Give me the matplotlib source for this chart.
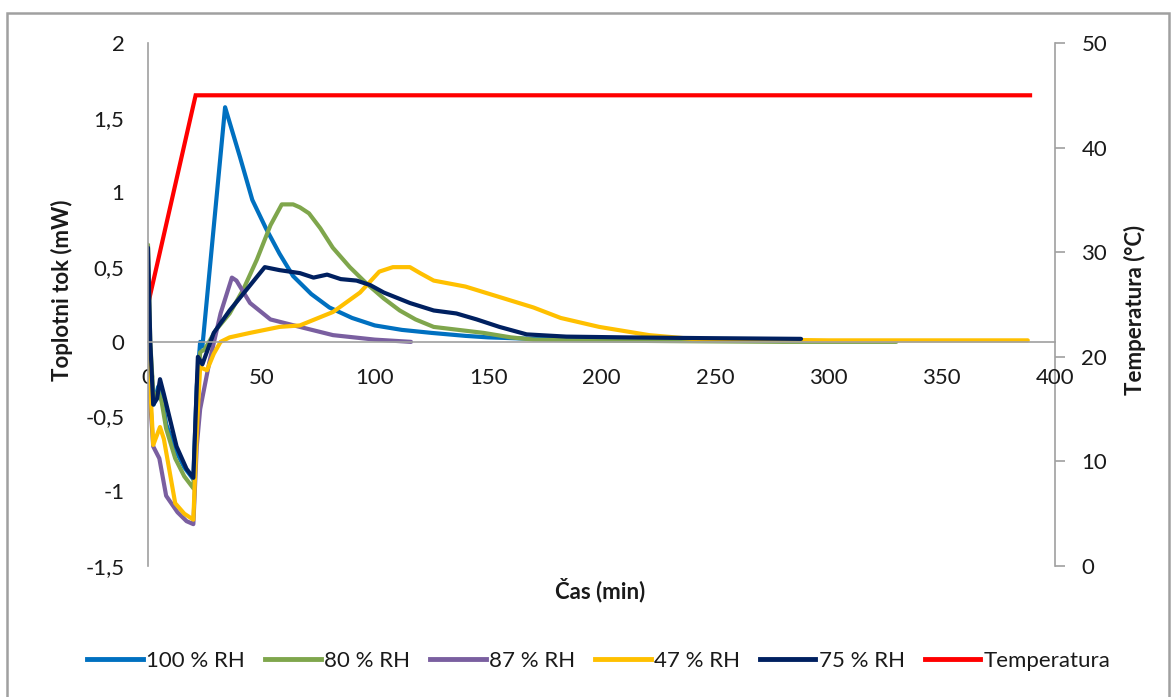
import matplotlib
matplotlib.use("Agg")
import matplotlib.pyplot as plt
from matplotlib.patches import Rectangle
from matplotlib.lines import Line2D

plt.rcParams['font.family'] = ['Lato', 'DejaVu Sans']

# heat flow series (time in min, flow in mW)
t_100 = [0, 1, 2.5, 4.5, 6, 8, 12, 16, 20, 21.5, 23, 24, 34, 40.5, 46, 52, 58, 64, 72, 80,
         90, 100, 112, 125, 140, 150, 170, 200, 230, 255]
q_100 = [0.3, -0.2, -0.42, -0.3, -0.35, -0.55, -0.72, -0.84, -0.92, -0.3, 0.0, -0.03, 1.57, 1.24,
         0.95, 0.76, 0.59, 0.44, 0.32, 0.23, 0.16, 0.11, 0.08, 0.06, 0.04, 0.03, 0.02, 0.015, 0.01, 0.01]

t_80 = [0, 1, 2.5, 4.5, 6, 8, 12, 16, 20, 21.5, 23, 25, 30, 36, 42, 48, 54, 59, 64, 67, 71, 76,
        81.5, 89, 96.4, 104, 111, 118, 126, 137, 148, 160, 170, 190, 230, 280, 330]
q_80 = [0.65, 0.0, -0.4, -0.33, -0.4, -0.58, -0.78, -0.9, -0.98, -0.4, -0.07, -0.05, 0.08, 0.19,
        0.35, 0.55, 0.78, 0.92, 0.92, 0.9, 0.86, 0.76, 0.63, 0.5, 0.39, 0.29, 0.21, 0.15, 0.1, 0.08,
        0.06, 0.03, 0.015, 0.01, 0.005, 0.0, 0.0]

t_87 = [0, 1, 2.3, 5, 8, 13, 17, 20, 21.5, 23, 27, 32, 37, 39, 45, 54, 67, 81.6, 100, 116]
q_87 = [0.1, -0.4, -0.7, -0.78, -1.03, -1.14, -1.2, -1.22, -0.7, -0.45, -0.14, 0.19, 0.43, 0.41,
        0.26, 0.15, 0.1, 0.045, 0.015, 0.0]

t_47 = [0, 1, 2.3, 5.3, 7, 12, 16, 20, 21.5, 23, 26, 29, 32, 36, 45, 58, 67, 81.6, 93.5, 102,
        108, 115.5, 120, 126, 140, 155, 170, 182, 199, 221, 240, 300, 388]
q_47 = [0.0, -0.3, -0.69, -0.57, -0.65, -1.08, -1.15, -1.19, -0.6, -0.17, -0.19, -0.08, 0.0,
        0.03, 0.06, 0.1, 0.11, 0.2, 0.33, 0.47, 0.5, 0.5, 0.46, 0.41, 0.37, 0.3, 0.23, 0.16, 0.1,
        0.045, 0.02, 0.01, 0.01]

t_75 = [0, 1, 2.3, 4, 5.3, 7, 12.6, 17, 20, 21, 22, 24, 29, 36, 43.5, 51.5, 58, 67, 73, 79, 85,
        92, 98, 104, 115.5, 126, 136, 145, 155, 167, 184.5, 210, 245, 288]
q_75 = [0.63, 0.0, -0.42, -0.38, -0.25, -0.35, -0.7, -0.85, -0.91, -0.5, -0.1, -0.15, 0.06, 0.21,
        0.35, 0.5, 0.48, 0.46, 0.43, 0.45, 0.42, 0.41, 0.38, 0.33, 0.26, 0.21, 0.19, 0.15, 0.1,
        0.05, 0.035, 0.03, 0.025, 0.02]

# temperature program
t_temp = [0, 21, 389]
temp = [25, 45, 45]

series_labels = ['100 % RH', '80 % RH', '87 % RH', '47 % RH', '75 % RH']
series_colors = ['#0070C0', '#7FA64C', '#7A5FA0', '#FFC000', '#002060']

x_ticks = [0, 50, 100, 150, 200, 250, 300, 350, 400]
y_ticks = [-1.5, -1, -0.5, 0, 0.5, 1, 1.5, 2]
y_ticklabels = ['-1,5', '-1', '-0,5', '0', '0,5', '1', '1,5', '2']
t_ticks = [0, 10, 20, 30, 40, 50]

W, H = 1171, 697
fig = plt.figure(figsize=(W / 100, H / 100), dpi=100)
ax = fig.add_axes([148 / W, 1 - 566 / H, (1055 - 148) / W, (566 - 43) / H])
ax2 = ax.twinx()

txt = '#1a1a1a'
grey = '#a0a0a0'
fs = 16

series = [(t_100, q_100), (t_80, q_80), (t_87, q_87), (t_47, q_47), (t_75, q_75)]
for (t, q), lab, col in zip(series, series_labels, series_colors):
    ax.plot(t, q, color=col, lw=3.0, label=lab, solid_capstyle='round', solid_joinstyle='round')

ax2.plot(t_temp, temp, color='#FF0000', lw=3.0, label='Temperatura', solid_joinstyle='miter')

# primary axis drawn above the temperature line
ax.set_zorder(ax2.get_zorder() + 1)
ax.patch.set_visible(False)

ax.set_xlim(0, 400)
ax.set_ylim(-1.5, 2)
ax2.set_ylim(0, 50)

ax.set_xticks(x_ticks)
ax.set_xticklabels([str(v) for v in x_ticks])
ax.set_yticks(y_ticks)
ax.set_yticklabels(y_ticklabels)
ax2.set_yticks(t_ticks)

for s in ['top', 'right']:
    ax.spines[s].set_visible(False)
for s in ['top', 'left', 'bottom']:
    ax2.spines[s].set_visible(False)
ax.spines['bottom'].set_position(('data', 0))
for sp in [ax.spines['left'], ax.spines['bottom'], ax2.spines['right']]:
    sp.set_color(grey)
    sp.set_linewidth(1.2)

ax.tick_params(axis='x', length=0, pad=19, labelsize=fs, labelcolor=txt)
ax.tick_params(axis='y', length=0, pad=17, labelsize=fs, labelcolor=txt)
ax2.tick_params(axis='y', length=7, width=1.2, color=grey, pad=12, labelsize=fs, labelcolor=txt)

fig.text(62 / W, 1 - 290 / H, 'Toplotni tok (mW)', rotation=90, ha='center', va='center',
         fontsize=fs, fontweight='bold', color=txt)
fig.text(1135 / W, 1 - 310 / H, 'Temperatura (°C)', rotation=90, ha='center', va='center',
         fontsize=fs, fontweight='bold', color=txt)
fig.text(600 / W, 1 - 590 / H, 'Čas (min)', ha='center', va='center',
         fontsize=fs, fontweight='bold', color=txt)

handles = [Line2D([], [], color=c, lw=3.5) for c in series_colors + ['#FF0000']]
fig.legend(handles, series_labels + ['Temperatura'], loc='center', ncol=6,
           bbox_to_anchor=(599 / W, 1 - 661 / H), frameon=False, fontsize=fs,
           handlelength=2.5, handletextpad=0.15, columnspacing=0.9, labelcolor=txt)

# chart border
fig.patches.append(Rectangle((7 / W, -0.01), (1169 - 7) / W, 1.01 - 12.5 / H,
                             transform=fig.transFigure, fill=False, edgecolor=grey, lw=1.8))

fig.savefig('out.png', dpi=100)
